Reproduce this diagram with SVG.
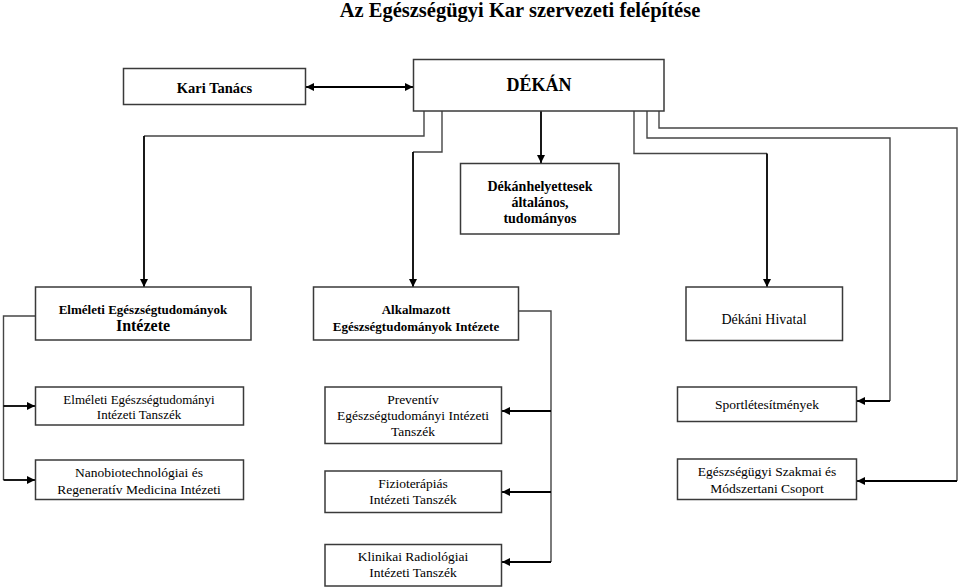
<svg xmlns="http://www.w3.org/2000/svg" width="959" height="587" viewBox="0 0 959 587">
<defs>
<marker id="ah" viewBox="0 0 10 10" refX="10" refY="5" markerWidth="9" markerHeight="8" markerUnits="userSpaceOnUse" orient="auto-start-reverse">
<path d="M0,0 L10,5 L0,10 z" fill="#000"/>
</marker>
<style>
.box{fill:#fff;stroke:#3a3a3a;stroke-width:1.5}
.t{fill:#000;text-anchor:middle}
.b{font-weight:bold}
.route{fill:none;stroke:#454545;stroke-width:1.4}
.arr{fill:none;stroke:#000;stroke-width:1.8;marker-end:url(#ah)}
</style>
</defs>
<rect width="959" height="587" fill="#fff"/>
<g font-family="Liberation Serif, Times New Roman, DejaVu Serif, serif">
<text class="t b" x="520" y="17" font-size="20.5">Az Egészségügyi Kar szervezeti felépítése</text>

<g id="connectors">
<line class="arr" x1="306" y1="87" x2="413" y2="87" style="marker-start:url(#ah)"/>
<polyline class="route" points="424,111 424,136 144,136"/>
<line class="arr" x1="144" y1="136" x2="144" y2="287"/>
<polyline class="route" points="442,111 442,152 413,152"/>
<line class="arr" x1="413" y1="152" x2="413" y2="287"/>
<line class="arr" x1="541" y1="111" x2="541" y2="163"/>
<polyline class="route" points="634,111 634,153.5 767,153.5"/>
<line class="arr" x1="767" y1="153.5" x2="767" y2="287"/>
<polyline class="route" points="647,111 647,138 890,138 890,401"/>
<line class="arr" x1="890" y1="401" x2="857" y2="401"/>
<polyline class="route" points="659,111 659,128 957,128 957,481"/>
<line class="arr" x1="957" y1="481" x2="857" y2="481"/>
<polyline class="route" points="35,316 3.5,316 3.5,480"/>
<line class="arr" x1="3.5" y1="406" x2="35" y2="406"/>
<line class="arr" x1="3.5" y1="480" x2="35" y2="480"/>
<polyline class="route" points="519,311 551,311 551,562"/>
<line class="arr" x1="551" y1="411" x2="502" y2="411"/>
<line class="arr" x1="551" y1="492" x2="502" y2="492"/>
<line class="arr" x1="551" y1="562" x2="502" y2="562"/>
</g>

<g id="kari-tanacs">
<rect class="box" x="123.5" y="68.5" width="182" height="36"/>
<text class="t b" x="214.5" y="93" font-size="14.5">Kari Tanács</text>
</g>
<g id="dekan">
<rect class="box" x="413.5" y="59.5" width="250.5" height="51.5"/>
<text class="t b" x="539" y="91" font-size="18">DÉKÁN</text>
</g>
<g id="dekanhelyettesek">
<rect class="box" x="460.5" y="163.5" width="158.5" height="70.5"/>
<text class="t b" x="540" y="191" font-size="14">Dékánhelyettesek</text>
<text class="t b" x="540" y="207" font-size="14">általános,</text>
<text class="t b" x="540" y="223" font-size="14">tudományos</text>
</g>
<g id="elmeleti-intezet">
<rect class="box" x="35.5" y="287" width="215.5" height="53"/>
<text class="t b" x="143" y="314" font-size="13">Elméleti Egészségtudományok</text>
<text class="t b" x="143" y="331" font-size="16">Intézete</text>
</g>
<g id="alkalmazott-intezet">
<rect class="box" x="313.5" y="287" width="205" height="53"/>
<text class="t b" x="416" y="314" font-size="13">Alkalmazott</text>
<text class="t b" x="416" y="331" font-size="13">Egészségtudományok Intézete</text>
</g>
<g id="dekani-hivatal">
<rect class="box" x="686" y="287" width="156.5" height="53.5"/>
<text class="t" x="764" y="324" font-size="14">Dékáni Hivatal</text>
</g>
<g id="elmeleti-tanszek">
<rect class="box" x="35.5" y="387" width="208" height="38"/>
<text class="t" x="139" y="404" font-size="13">Elméleti Egészségtudományi</text>
<text class="t" x="139" y="419" font-size="13">Intézeti Tanszék</text>
</g>
<g id="nanobiotech">
<rect class="box" x="35.5" y="460" width="208" height="39.5"/>
<text class="t" x="139" y="477" font-size="13.5">Nanobiotechnológiai és</text>
<text class="t" x="139" y="494" font-size="13.5">Regeneratív Medicina Intézeti</text>
</g>
<g id="preventiv">
<rect class="box" x="325" y="387" width="176.5" height="56.5"/>
<text class="t" x="413" y="404" font-size="13.5">Preventív</text>
<text class="t" x="413" y="420" font-size="13.5">Egészségtudományi Intézeti</text>
<text class="t" x="413" y="436" font-size="13.5">Tanszék</text>
</g>
<g id="fizioterapias">
<rect class="box" x="325" y="471" width="176.5" height="41.5"/>
<text class="t" x="413" y="488" font-size="13.5">Fizioterápiás</text>
<text class="t" x="413" y="504" font-size="13.5">Intézeti Tanszék</text>
</g>
<g id="klinikai-radiologiai">
<rect class="box" x="325" y="544.5" width="176.5" height="41.5"/>
<text class="t" x="413" y="561" font-size="13.5">Klinikai Radiológiai</text>
<text class="t" x="413" y="577" font-size="13.5">Intézeti Tanszék</text>
</g>
<g id="sportletesitmenyek">
<rect class="box" x="677.5" y="387" width="179" height="34.5"/>
<text class="t" x="767" y="409" font-size="13.5">Sportlétesítmények</text>
</g>
<g id="eu-szakmai">
<rect class="box" x="677.5" y="459" width="179" height="40.5"/>
<text class="t" x="767" y="476" font-size="13.5">Egészségügyi Szakmai és</text>
<text class="t" x="767" y="493" font-size="13.5">Módszertani Csoport</text>
</g>
</g>
</svg>
